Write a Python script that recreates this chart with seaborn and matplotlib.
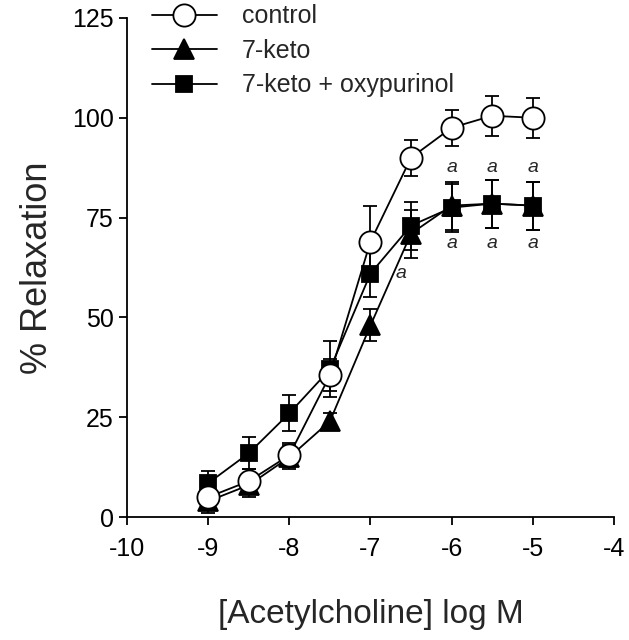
import numpy as np
import pandas as pd
import matplotlib
matplotlib.use("Agg")
import matplotlib.pyplot as plt
import seaborn as sns

log_ach = [-9, -8.5, -8, -7.5, -7, -6.5, -6, -5.5, -5]
control = [5, 9, 15.5, 35.5, 69, 90, 97.5, 100.5, 100]
control_err = [3, 3, 3, 4, 9, 4.5, 4.5, 5, 5]
keto = [4, 8, 15, 24, 48, 71, 78, 78.5, 78]
keto_err = [3, 3, 3, 2, 4, 6, 6, 6, 6]
keto_oxy = [8.5, 16, 26, 37, 61, 73, 77.5, 78.5, 78]
keto_oxy_err = [3, 4, 4.5, 7, 6, 6, 6, 6, 6]
series_names = ["control", "7-keto", "7-keto + oxypurinol"]
sig_upper_x = [-6, -5.5, -5]
sig_lower_x = [-6, -5.5, -5]
x_ticks = [-10, -9, -8, -7, -6, -5, -4]
y_ticks = [0, 25, 50, 75, 100, 125]

sns.set_theme(style="ticks")
plt.rcParams['font.family'] = ['Liberation Sans', 'DejaVu Sans']

fig = plt.figure(figsize=(6.29, 6.40), dpi=100)
ax = fig.add_axes([0.202, 0.192, 0.774, 0.780])

df = pd.DataFrame({
    "x": log_ach * 3,
    "y": control + keto + keto_oxy,
    "err": control_err + keto_err + keto_oxy_err,
    "group": [series_names[0]] * 9 + [series_names[1]] * 9 + [series_names[2]] * 9,
})

styles = {
    "control": dict(marker="o", ms=16, mfc="white", z=5),
    "7-keto": dict(marker="^", ms=14, mfc="black", z=3),
    "7-keto + oxypurinol": dict(marker="s", ms=11, mfc="black", z=4),
}

for name in series_names:
    d = df[df.group == name]
    st = styles[name]
    ax.errorbar(d.x, d.y, yerr=d.err, fmt="none", ecolor="black", elinewidth=1.3,
                capsize=5, capthick=1.3, zorder=st["z"] - 0.5)
    sns.lineplot(data=d, x="x", y="y", ax=ax, color="black", lw=1.3,
                 marker=st["marker"], markersize=st["ms"], markerfacecolor=st["mfc"],
                 markeredgecolor="black", markeredgewidth=1.3, zorder=st["z"],
                 label=name, legend=False, errorbar=None)

for xv in sig_upper_x:
    ax.text(xv, 87.5, "a", ha="center", va="center", fontsize=14, style="italic")
for xv in sig_lower_x:
    ax.text(xv, 68.5, "a", ha="center", va="center", fontsize=14, style="italic")
ax.text(-6.62, 61, "a", ha="center", va="center", fontsize=14, style="italic")

ax.set_xlim(-10, -4)
ax.set_ylim(0, 125)
ax.set_xticks(x_ticks)
ax.set_yticks(y_ticks)
ax.set_xticklabels([str(t) for t in x_ticks])
ax.tick_params(axis="both", direction="out", length=6, width=1.3, labelsize=18, colors="black")
ax.tick_params(axis="x", pad=8)
for s in ["top", "right"]:
    ax.spines[s].set_visible(False)
for s in ["left", "bottom"]:
    ax.spines[s].set_color("black")
    ax.spines[s].set_linewidth(1.3)
ax.set_xlabel("[Acetylcholine] log M", fontsize=24, labelpad=28)
ax.set_ylabel("% Relaxation", fontsize=26, labelpad=12)
ax.grid(False)

handles, labels = ax.get_legend_handles_labels()
leg = ax.legend(handles, labels, loc="upper left", bbox_to_anchor=(0.03, 1.047),
                frameon=False, fontsize=18, handlelength=2.6, handletextpad=1.0,
                labelspacing=0.42, borderaxespad=0)

fig.savefig("out.png", dpi=100)
